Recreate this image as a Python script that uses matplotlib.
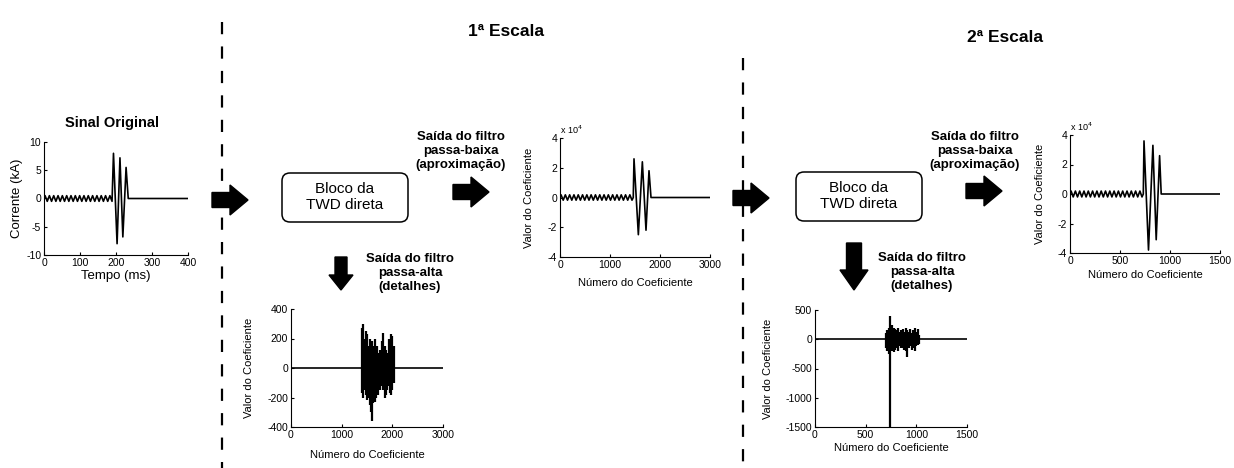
import matplotlib
matplotlib.use("Agg")
import matplotlib.pyplot as plt
from matplotlib.patches import FancyArrow, FancyBboxPatch

plt.rcParams["font.family"] = ["Liberation Sans", "DejaVu Sans"]
plt.rcParams["axes.unicode_minus"] = False

W, H = 1234, 468

# sinal original (tempo em ms, corrente em kA)
sinal_t = [0, 3, 9, 15, 21, 27, 33, 39, 45, 51, 57, 63, 69, 75, 81, 87, 93,
           99, 105, 111, 117, 123, 129, 135, 141, 147, 153, 159, 165, 171,
           177, 183, 189, 193, 203, 211, 219, 228, 234, 400]
sinal_i = [0, 0.5, -0.5, 0.5, -0.5, 0.5, -0.5, 0.5, -0.5, 0.5, -0.5, 0.5,
           -0.5, 0.5, -0.5, 0.5, -0.5, 0.5, -0.5, 0.5, -0.5, 0.5, -0.5, 0.5,
           -0.5, 0.5, -0.5, 0.5, -0.5, 0.5, -0.5, 0.5, -0.5,
           8.0, -8.0, 7.2, -6.8, 5.5, 0, 0]

# 1a escala - aproximacao (valores x 10^4)
aprox1_n = [0, 21, 64, 107, 150, 193, 236, 279, 322, 365, 408, 451, 494, 537,
            580, 623, 666, 709, 752, 795, 838, 881, 924, 967, 1010, 1053,
            1096, 1139, 1182, 1225, 1268, 1311, 1354, 1397, 1440, 1465,
            1480, 1567, 1647, 1720, 1780, 1820, 3000]
aprox1_v = [0, 0.18, -0.18, 0.18, -0.18, 0.18, -0.18, 0.18, -0.18, 0.18,
            -0.18, 0.18, -0.18, 0.18, -0.18, 0.18, -0.18, 0.18, -0.18, 0.18,
            -0.18, 0.18, -0.18, 0.18, -0.18, 0.18, -0.18, 0.18, -0.18, 0.18,
            -0.18, 0.18, -0.18, 0.18, -0.18, 0,
            2.6, -2.5, 2.4, -2.2, 1.8, 0, 0]

# 1a escala - detalhes (envoltoria da rajada)
det1_lim = [0, 3000]
det1_n = [1400, 1425, 1450, 1475, 1500, 1525, 1550, 1575, 1600, 1625, 1650,
          1675, 1700, 1725, 1750, 1775, 1800, 1825, 1850, 1875, 1900, 1925,
          1950, 1975, 2000, 2025]
det1_max = [270, 300, 200, 250, 230, 150, 200, 120, 180, 150, 200, 120, 150,
            100, 120, 90, 180, 240, 150, 120, 100, 200, 180, 230, 220, 150]
det1_min = [-170, -200, -150, -180, -220, -200, -250, -300, -360, -240, -230,
            -200, -150, -180, -150, -120, -100, -150, -200, -180, -150, -120,
            -170, -180, -150, -100]

# 2a escala - aproximacao (valores x 10^4)
aprox2_n = [0, 11, 32, 54, 75, 97, 118, 140, 161, 183, 204, 226, 247, 269,
            290, 312, 333, 355, 376, 398, 419, 441, 462, 484, 505, 527, 548,
            570, 591, 613, 634, 656, 677, 699, 720, 733,
            740, 785, 829, 862, 896, 912, 1500]
aprox2_v = [0, 0.2, -0.2, 0.2, -0.2, 0.2, -0.2, 0.2, -0.2, 0.2, -0.2, 0.2,
            -0.2, 0.2, -0.2, 0.2, -0.2, 0.2, -0.2, 0.2, -0.2, 0.2, -0.2, 0.2,
            -0.2, 0.2, -0.2, 0.2, -0.2, 0.2, -0.2, 0.2, -0.2, 0.2, -0.2, 0,
            3.6, -3.8, 3.3, -3.1, 2.6, 0, 0]

# 2a escala - detalhes
det2_lim = [0, 1500]
det2_n = [700, 715, 730, 745, 760, 775, 790, 805, 820, 835, 850, 865, 880,
          895, 910, 925, 940, 955, 970, 985, 1000, 1015, 1030]
det2_max = [100, 150, 200, 400, 250, 200, 180, 150, 200, 120, 150, 180, 130,
            200, 150, 120, 180, 100, 150, 200, 120, 180, 80]
det2_min = [-150, -200, -250, -1500, -200, -220, -180, -150, -200, -120,
            -150, -150, -180, -200, -300, -150, -120, -180, -150, -200, -120,
            -100, -80]

fig = plt.figure(figsize=(W / 100, H / 100), dpi=100)

# camada de fundo em pixels para textos, setas e caixas
bg = fig.add_axes([0, 0, 1, 1])
bg.set_xlim(0, W)
bg.set_ylim(H, 0)
bg.axis("off")


def px_axes(x0, x1, y0, y1):
    ax = fig.add_axes([x0 / W, 1 - y1 / H, (x1 - x0) / W, (y1 - y0) / H])
    ax.spines["top"].set_visible(False)
    ax.spines["right"].set_visible(False)
    ax.tick_params(direction="in", length=2, labelsize=7.5, pad=2)
    return ax


def labels(ax, box, xlab, ylab, xl_y, yl_x, size=8):
    x0, x1, y0, y1 = box
    ax.set_xlabel(xlab, fontsize=size, va="center")
    ax.set_ylabel(ylab, fontsize=size, va="center")
    ax.xaxis.set_label_coords(0.5, (y1 - xl_y) / (y1 - y0))
    ax.yaxis.set_label_coords((yl_x - x0) / (x1 - x0), 0.5)


lw = 1.2

# Sinal original
b1 = (44, 188, 142, 255)
ax1 = px_axes(*b1)
ax1.plot(sinal_t, sinal_i, color="black", lw=lw)
ax1.set_xlim(0, 400)
ax1.set_ylim(-10, 10)
ax1.set_xticks([0, 100, 200, 300, 400])
ax1.set_yticks([-10, -5, 0, 5, 10])
labels(ax1, b1, "Tempo (ms)", "Corrente (kA)", 276, 17, size=9.5)

# 1a escala aproximacao
b2 = (560, 710, 138, 257)
ax2 = px_axes(*b2)
ax2.plot(aprox1_n, aprox1_v, color="black", lw=lw)
ax2.set_xlim(0, 3000)
ax2.set_ylim(-4, 4)
ax2.set_xticks([0, 1000, 2000, 3000])
ax2.set_yticks([-4, -2, 0, 2, 4])
labels(ax2, b2, "Número do Coeficiente", "Valor do Coeficiente", 283, 529)
ax2.text(0.0, 1.02, "x 10$^4$", transform=ax2.transAxes, fontsize=6.5,
         va="bottom")

# 1a escala detalhes
b3 = (291, 443, 309, 427)
ax3 = px_axes(*b3)
ax3.plot(det1_lim, [0, 0], color="black", lw=lw)
ax3.vlines(det1_n, det1_min, det1_max, color="black", lw=1.6)
ax3.set_xlim(0, 3000)
ax3.set_ylim(-400, 400)
ax3.set_xticks([0, 1000, 2000, 3000])
ax3.set_yticks([-400, -200, 0, 200, 400])
labels(ax3, b3, "Número do Coeficiente", "Valor do Coeficiente", 455, 249)

# 2a escala aproximacao
b4 = (1070, 1220, 135, 253)
ax4 = px_axes(*b4)
ax4.plot(aprox2_n, aprox2_v, color="black", lw=lw)
ax4.set_xlim(0, 1500)
ax4.set_ylim(-4, 4)
ax4.set_xticks([0, 500, 1000, 1500])
ax4.set_yticks([-4, -2, 0, 2, 4])
labels(ax4, b4, "Número do Coeficiente", "Valor do Coeficiente", 275, 1040)
ax4.text(0.0, 1.02, "x 10$^4$", transform=ax4.transAxes, fontsize=6.5,
         va="bottom")

# 2a escala detalhes
b5 = (815, 967, 310, 427)
ax5 = px_axes(*b5)
ax5.plot(det2_lim, [0, 0], color="black", lw=lw)
ax5.vlines(det2_n, det2_min, det2_max, color="black", lw=1.6)
ax5.set_xlim(0, 1500)
ax5.set_ylim(-1500, 500)
ax5.set_xticks([0, 500, 1000, 1500])
ax5.set_yticks([-1500, -1000, -500, 0, 500])
labels(ax5, b5, "Número do Coeficiente", "Valor do Coeficiente", 448, 768)

# linhas tracejadas separando as escalas
bg.plot([222, 222], [22, H], color="black", lw=1.6, ls=(0, (5.5, 5.5)))
bg.plot([743, 743], [58, H], color="black", lw=1.6, ls=(0, (5.5, 5.5)))

# titulos
bg.text(112, 123, "Sinal Original", fontsize=10.5, fontweight="bold",
        ha="center", va="center")
bg.text(506, 31, "1ª Escala", fontsize=12.5, fontweight="bold",
        ha="center", va="center")
bg.text(1005, 38, "2ª Escala", fontsize=12.5, fontweight="bold",
        ha="center", va="center")

# caixas TWD
for bx, by in [(282, 173), (796, 172)]:
    bg.add_patch(FancyBboxPatch((bx, by), 126, 49,
                                boxstyle="round,pad=0,rounding_size=8",
                                fc="white", ec="black", lw=1.1))
    bg.text(bx + 63, by + 24, "Bloco da\nTWD direta", fontsize=11,
            ha="center", va="center", linespacing=1.15)

# textos dos filtros
for cx in [461, 975]:
    bg.text(cx, 151, "Saída do filtro\npassa-baixa\n(aproximação)",
            fontsize=9.5, fontweight="bold", ha="center", va="center",
            linespacing=1.2)
for cx, cy in [(410, 273), (922, 272)]:
    bg.text(cx, cy, "Saída do filtro\npassa-alta\n(detalhes)",
            fontsize=9.5, fontweight="bold", ha="center", va="center",
            linespacing=1.2)

# setas
for x, y in [(212, 200), (453, 192), (733, 198), (966, 191)]:
    bg.add_patch(FancyArrow(x, y, 36, 0, width=15, head_width=30,
                            head_length=18, length_includes_head=True,
                            color="black"))
bg.add_patch(FancyArrow(341, 257, 0, 33, width=12, head_width=24,
                        head_length=15, length_includes_head=True,
                        color="black"))
bg.add_patch(FancyArrow(854, 243, 0, 47, width=15, head_width=28,
                        head_length=20, length_includes_head=True,
                        color="black"))

fig.savefig("out.png", dpi=100)
